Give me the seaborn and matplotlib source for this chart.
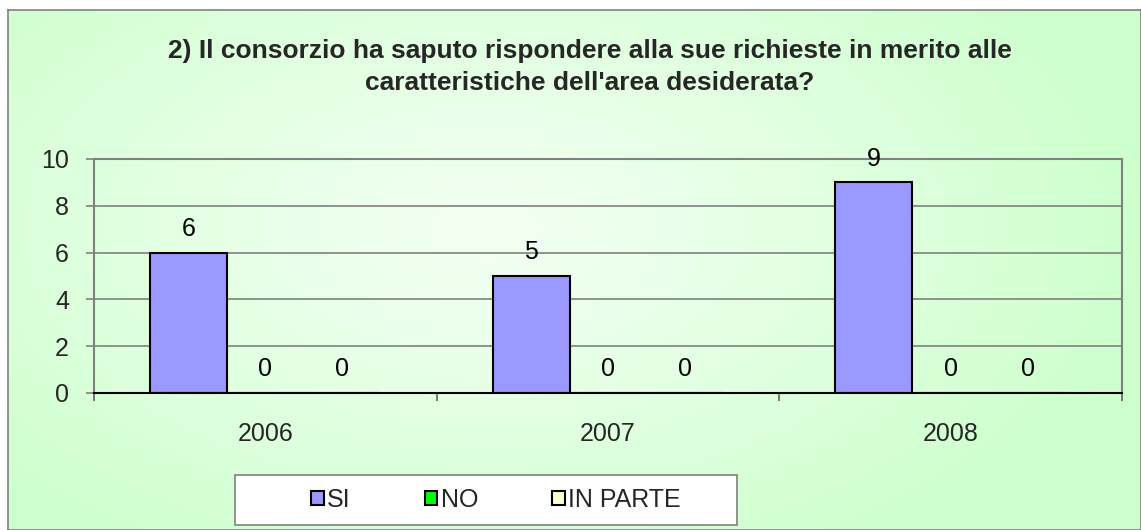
import numpy as np
import pandas as pd
import matplotlib
matplotlib.use("Agg")
import matplotlib.pyplot as plt
from matplotlib.patches import Rectangle, Patch
import seaborn as sns

# ---- data ----
years = ["2006", "2007", "2008"]
series_names = ["SI", "NO", "IN PARTE"]
si = [6, 5, 9]
no = [0, 0, 0]
in_parte = [0, 0, 0]
colors = ["#9999FF", "#00FF00", "#FFFFCC"]
title = "2) Il consorzio ha saputo rispondere alla sue richieste in merito alle\ncaratteristiche dell'area desiderata?"
yticks = [0, 2, 4, 6, 8, 10]

df = pd.DataFrame({
    "anno": years * 3,
    "serie": [series_names[0]] * 3 + [series_names[1]] * 3 + [series_names[2]] * 3,
    "valore": si + no + in_parte,
})

sns.set_theme(style="white")
plt.rcParams["font.family"] = ["Liberation Sans", "DejaVu Sans"]

W, H = 1141, 530
fig = plt.figure(figsize=(W / 100, H / 100), dpi=100, facecolor="white")

# background gradient (chart area)
bx0, by1 = 8 / W, 1 - 10 / H
bg = fig.add_axes([bx0, 0, 1 - bx0, by1], zorder=-10)
ny, nx = 200, 400
yy, xx = np.mgrid[0:ny, 0:nx]
cx, cy = 0.42 * nx, 0.42 * ny
d = np.sqrt(((xx - cx) / (0.6 * nx)) ** 2 + ((yy - cy) / (0.75 * ny)) ** 2)
t = np.clip(d, 0, 1) ** 1.2
c0 = np.array([242, 255, 242]) / 255
c1 = np.array([204, 255, 204]) / 255
img = c0[None, None, :] * (1 - t[..., None]) + c1[None, None, :] * t[..., None]
bg.imshow(img, aspect="auto", extent=[0, 1, 0, 1], origin="upper")
bg.set_xticks([]); bg.set_yticks([])
for s in bg.spines.values():
    s.set_edgecolor("#808080"); s.set_linewidth(1.2)

# main axes
ax = fig.add_axes([94 / W, (H - 393) / H, (1122 - 94) / W, (393 - 159) / H])
ax.set_facecolor("none")
sns.barplot(data=df, x="anno", y="valore", hue="serie", hue_order=series_names,
            palette=colors, edgecolor="black", linewidth=1.5, width=0.674,
            saturation=1, ax=ax, legend=False)
for cont in ax.containers:
    ax.bar_label(cont, padding=8.5, fontsize=18, color="black")

ax.set_xlim(-0.5, 2.5)
ax.set_ylim(0, 10)
ax.set_yticks(yticks)
ax.set_yticklabels([str(v) for v in yticks], fontsize=18)
ax.yaxis.grid(True, color="#808080", linewidth=1.2)
ax.set_axisbelow(True)
ax.tick_params(axis="y", which="major", left=True, length=6, width=1.2, color="#808080", pad=12)
ax.tick_params(axis="x", which="major", bottom=False, labelsize=18, pad=15)
ax.set_xticks([-0.5, 0.5, 1.5, 2.5], minor=True)
ax.tick_params(axis="x", which="minor", bottom=True, length=6, width=1.2, color="#606060")
ax.set_xlabel(""); ax.set_ylabel("")
for name in ["top", "right", "left"]:
    ax.spines[name].set_color("#808080"); ax.spines[name].set_linewidth(1.5)
ax.spines["bottom"].set_color("black"); ax.spines["bottom"].set_linewidth(1.5)

# title
fig.text(590 / W, 1 - 67 / H, title, ha="center", va="center", fontsize=19,
         fontweight="bold", linespacing=1.45)

# legend box
fig.patches.append(Rectangle((235 / W, (H - 525) / H), (737 - 235) / W, 50 / H,
                             transform=fig.transFigure, facecolor="white",
                             edgecolor="#808080", linewidth=1.2, zorder=5))
handles = [Patch(facecolor=c, edgecolor="black", linewidth=1.5) for c in colors]
leg = fig.legend(handles, series_names, loc="center", bbox_to_anchor=(496 / W, (H - 500) / H),
                 ncol=3, frameon=False, fontsize=18, handlelength=0.5, handleheight=0.5,
                 handletextpad=0.15, columnspacing=2.95)
leg.set_zorder(6)

fig.savefig("out.png", dpi=100)
